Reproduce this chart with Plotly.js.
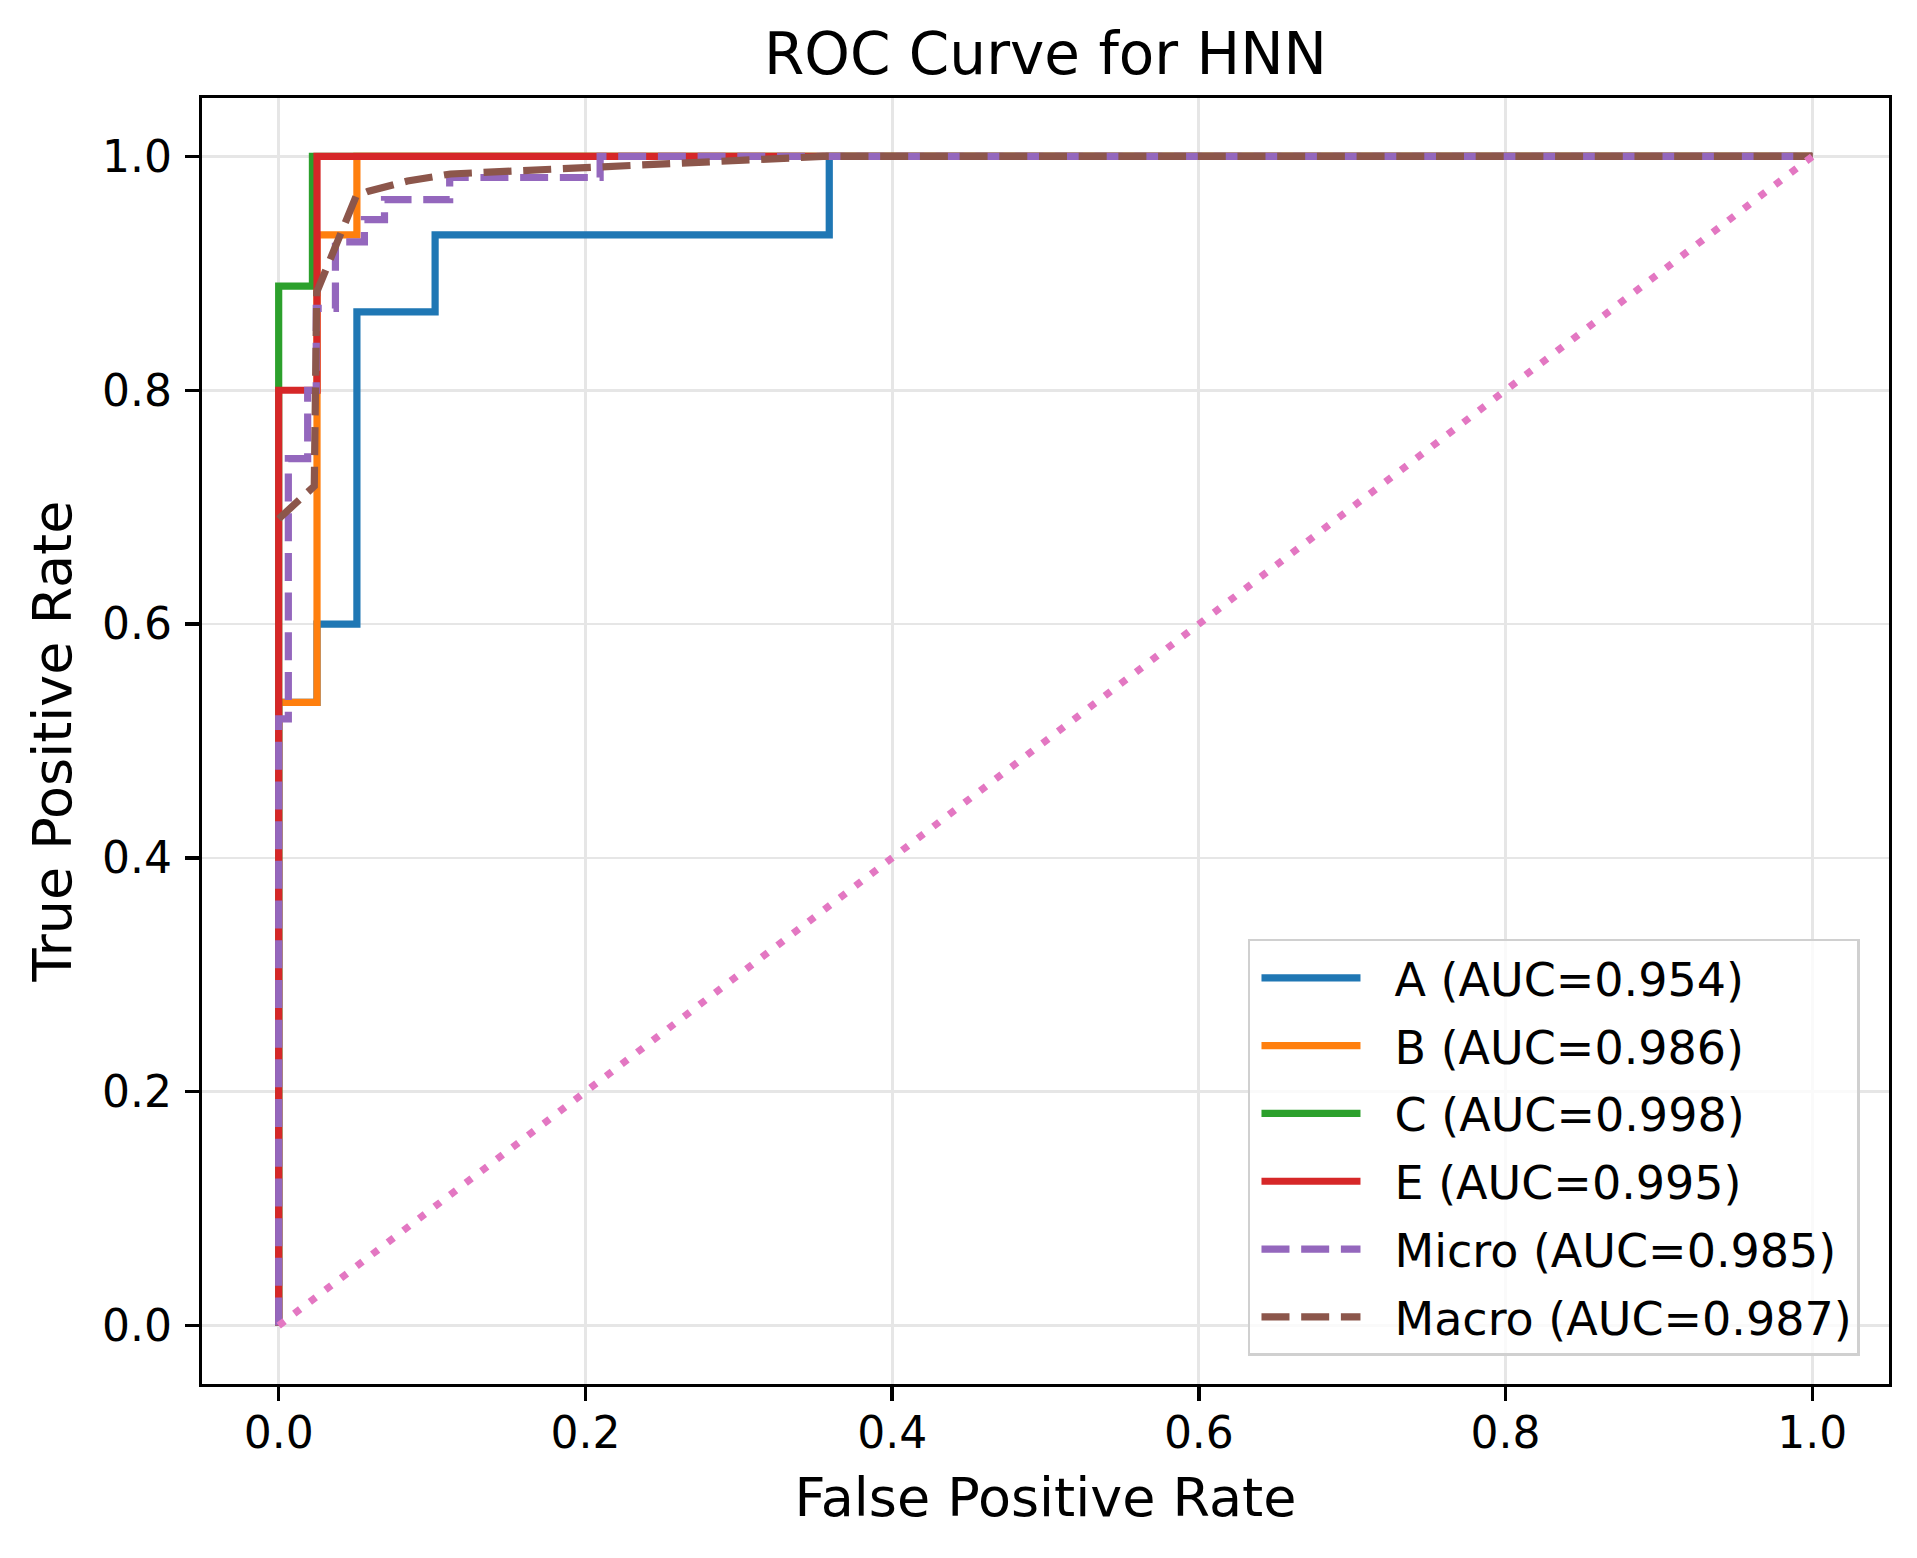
<!DOCTYPE html>
<html>
<head>
<meta charset="utf-8">
<script src="https://cdn.plot.ly/plotly-3.0.1.min.js"></script>
<style>html,body{margin:0;padding:0;background:#fff;}#chart{width:1917px;height:1558px;}</style>
</head>
<body>
<div id="chart"></div>
<script>
// ---- data ----
const A_fpr = [0, 0, 0.025, 0.025, 0.051, 0.051, 0.102, 0.102, 0.359, 0.359, 1];
const A_tpr = [0, 0.533, 0.533, 0.6, 0.6, 0.867, 0.867, 0.933, 0.933, 1, 1];
const B_fpr = [0, 0, 0.025, 0.025, 0.051, 0.051, 1];
const B_tpr = [0, 0.533, 0.533, 0.933, 0.933, 1, 1];
const C_fpr = [0, 0, 0.022, 0.022, 1];
const C_tpr = [0, 0.889, 0.889, 1, 1];
const E_fpr = [0, 0, 0.025, 0.025, 1];
const E_tpr = [0, 0.8, 0.8, 1, 1];
const Micro_fpr = [0, 0, 0.0063, 0.0063, 0.0189, 0.0189, 0.0245, 0.0245, 0.037, 0.037, 0.0559, 0.0559, 0.069, 0.069, 0.1115, 0.1115, 0.2096, 0.2096, 1];
const Micro_tpr = [0, 0.519, 0.519, 0.7415, 0.7415, 0.8, 0.8, 0.870, 0.870, 0.927, 0.927, 0.946, 0.946, 0.963, 0.963, 0.982, 0.982, 1, 1];
const Macro_fpr = [0, 0.0232, 0.0248, 0.0505, 0.058, 0.084, 0.112, 0.16, 0.22, 0.29, 0.355, 1];
const Macro_tpr = [0.69, 0.718, 0.884, 0.966, 0.970, 0.979, 0.985, 0.988, 0.991, 0.996, 1.0, 1.0];
const Chance_x = [0, 1];
const Chance_y = [0, 1];
const labels = ['A (AUC=0.954)', 'B (AUC=0.986)', 'C (AUC=0.998)', 'E (AUC=0.995)', 'Micro (AUC=0.985)', 'Macro (AUC=0.987)'];
const tickVals = [0, 0.2, 0.4, 0.6, 0.8, 1.0];
const tickText = ['0.0', '0.2', '0.4', '0.6', '0.8', '1.0'];

const colors = ['#1f77b4', '#ff7f0e', '#2ca02c', '#d62728', '#9467bd', '#8c564b', '#e377c2'];
const LW = 7.2;
const DASH = '28px,11.7px';
const DOT = '7.4px,12.2px';

const series = [
  [A_fpr, A_tpr, 'solid'],
  [B_fpr, B_tpr, 'solid'],
  [C_fpr, C_tpr, 'solid'],
  [E_fpr, E_tpr, 'solid'],
  [Micro_fpr, Micro_tpr, DASH],
  [Macro_fpr, Macro_tpr, DASH]
];

const traces = series.map((s, i) => ({
  type: 'scatter', mode: 'lines', x: s[0], y: s[1], name: labels[i],
  legendgroup: 'g' + i,
  line: {color: colors[i], width: LW, dash: s[2]}
}));
traces.push({
  type: 'scatter', mode: 'lines', x: Chance_x, y: Chance_y, showlegend: false,
  legendgroup: 'chance',
  line: {color: colors[6], width: LW, dash: DOT}
});

const FONT = 'DejaVu Sans';
const axisCommon = {
  range: [-0.05, 1.05], tickvals: tickVals, ticktext: tickText,
  showline: true, mirror: true, linecolor: '#000', linewidth: 3.3,
  ticks: 'outside', ticklen: 14, tickwidth: 3.3, tickcolor: '#000',
  showgrid: true, gridcolor: '#e6e6e6', gridwidth: 2.8, zeroline: false,
  tickfont: {family: FONT, size: 44, color: '#000'},
  automargin: false, fixedrange: true
};

const layout = {
  width: 1917, height: 1558,
  margin: {l: 202, r: 28, t: 98, b: 174},
  paper_bgcolor: '#fff', plot_bgcolor: '#fff',
  font: {family: FONT, color: '#000'},
  title: {text: 'ROC Curve for HNN', font: {family: FONT, size: 58, color: '#000'},
          x: 0.5, xref: 'paper', xanchor: 'center', y: 0.9654, yref: 'container', yanchor: 'middle'},
  xaxis: Object.assign({}, axisCommon, {
    title: {text: 'False Positive Rate', font: {family: FONT, size: 54, color: '#000'}, standoff: 22},
    ticklabelstandoff: -6
  }),
  yaxis: Object.assign({}, axisCommon, {
    title: {text: 'True Positive Rate', font: {family: FONT, size: 54, color: '#000'}, standoff: 14},
    ticklabelstandoff: 4
  }),
  legend: {
    x: 0.9828, y: 0.0218, xanchor: 'right', yanchor: 'bottom',
    bgcolor: 'rgba(255,255,255,0.8)', bordercolor: '#d0d0d0', borderwidth: 2.5,
    font: {family: FONT, size: 46, color: '#000'},
    itemwidth: 134, tracegroupgap: 5, traceorder: 'grouped'
  },
  showlegend: true
};

function shortenLegendLines() {
  // matplotlib-style legend handle: a 99px sample with a gap before the label
  document.querySelectorAll('#chart .legend .legendlines path').forEach(p => {
    p.setAttribute('d', 'M11,0h99');
  });
}

Plotly.newPlot('chart', traces, layout, {staticPlot: true, displayModeBar: false}).then(gd => {
  shortenLegendLines();
  gd.on('plotly_afterplot', shortenLegendLines);
});
</script>
</body>
</html>
